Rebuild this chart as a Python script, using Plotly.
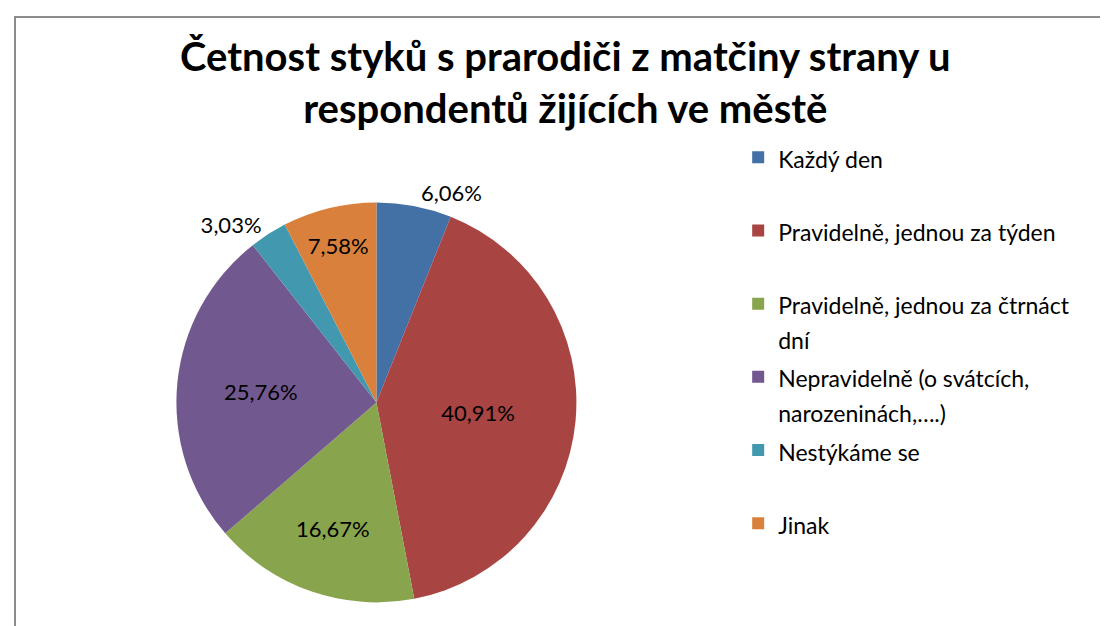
import plotly.graph_objects as go

labels = [
    "Každý den<br> ",
    "Pravidelně, jednou za týden<br> ",
    "Pravidelně, jednou za čtrnáct<br>dní",
    "Nepravidelně (o svátcích,<br>narozeninách,….)",
    "Nestýkáme se<br> ",
    "Jinak",
]
counts = [4, 27, 11, 17, 2, 5]
colors = ["#4371A6", "#A84442", "#88A44D", "#71588F", "#4298AE", "#D9813C"]
text_positions = ["outside", "inside", "inside", "inside", "outside", "inside"]

FONT = "Lato"


def legend_label(s):
    return "<br>".join(
        f"<span style='font-size:23px'>{part}</span>" for part in s.split("<br>")
    )


fig = go.Figure(
    go.Pie(
        labels=[legend_label(s) for s in labels],
        values=counts,
        sort=False,
        direction="clockwise",
        rotation=0,
        marker=dict(colors=colors, line=dict(width=0)),
        texttemplate="%{percent:.2%}",
        textposition=text_positions,
        insidetextorientation="horizontal",
        textfont=dict(family=FONT, size=22, color="black"),
        outsidetextfont=dict(family=FONT, size=22, color="black"),
        insidetextfont=dict(family=FONT, size=22, color="black"),
        domain=dict(x=[0.152, 0.513], y=[0.05, 0.69]),
        hoverinfo="percent",
    )
)

fig.update_layout(
    width=1108,
    height=626,
    separators=", ",
    paper_bgcolor="white",
    plot_bgcolor="white",
    margin=dict(l=0, r=0, t=0, b=0),
    title=dict(
        text="<b>Četnost styků s prarodiči z matčiny strany u<br>respondentů žijících ve městě</b>",
        x=0.503,
        xanchor="center",
        y=0.899,
        yanchor="top",
        font=dict(family=FONT, size=40, color="black"),
    ),
    legend=dict(
        x=0.659,
        xanchor="left",
        y=0.80,
        yanchor="top",
        font=dict(family=FONT, size=27, color="black"),
        valign="top",
        itemwidth=30,
        tracegroupgap=0,
    ),
    shapes=[
        dict(
            type="rect",
            xref="paper",
            yref="paper",
            x0=7 / 1108,
            x1=1.05,
            y0=-0.05,
            y1=1 - 9 / 626,
            line=dict(color="#8c8c8c", width=2),
            fillcolor="rgba(0,0,0,0)",
            layer="below",
        )
    ],
)

fig.write_html("out.html")
